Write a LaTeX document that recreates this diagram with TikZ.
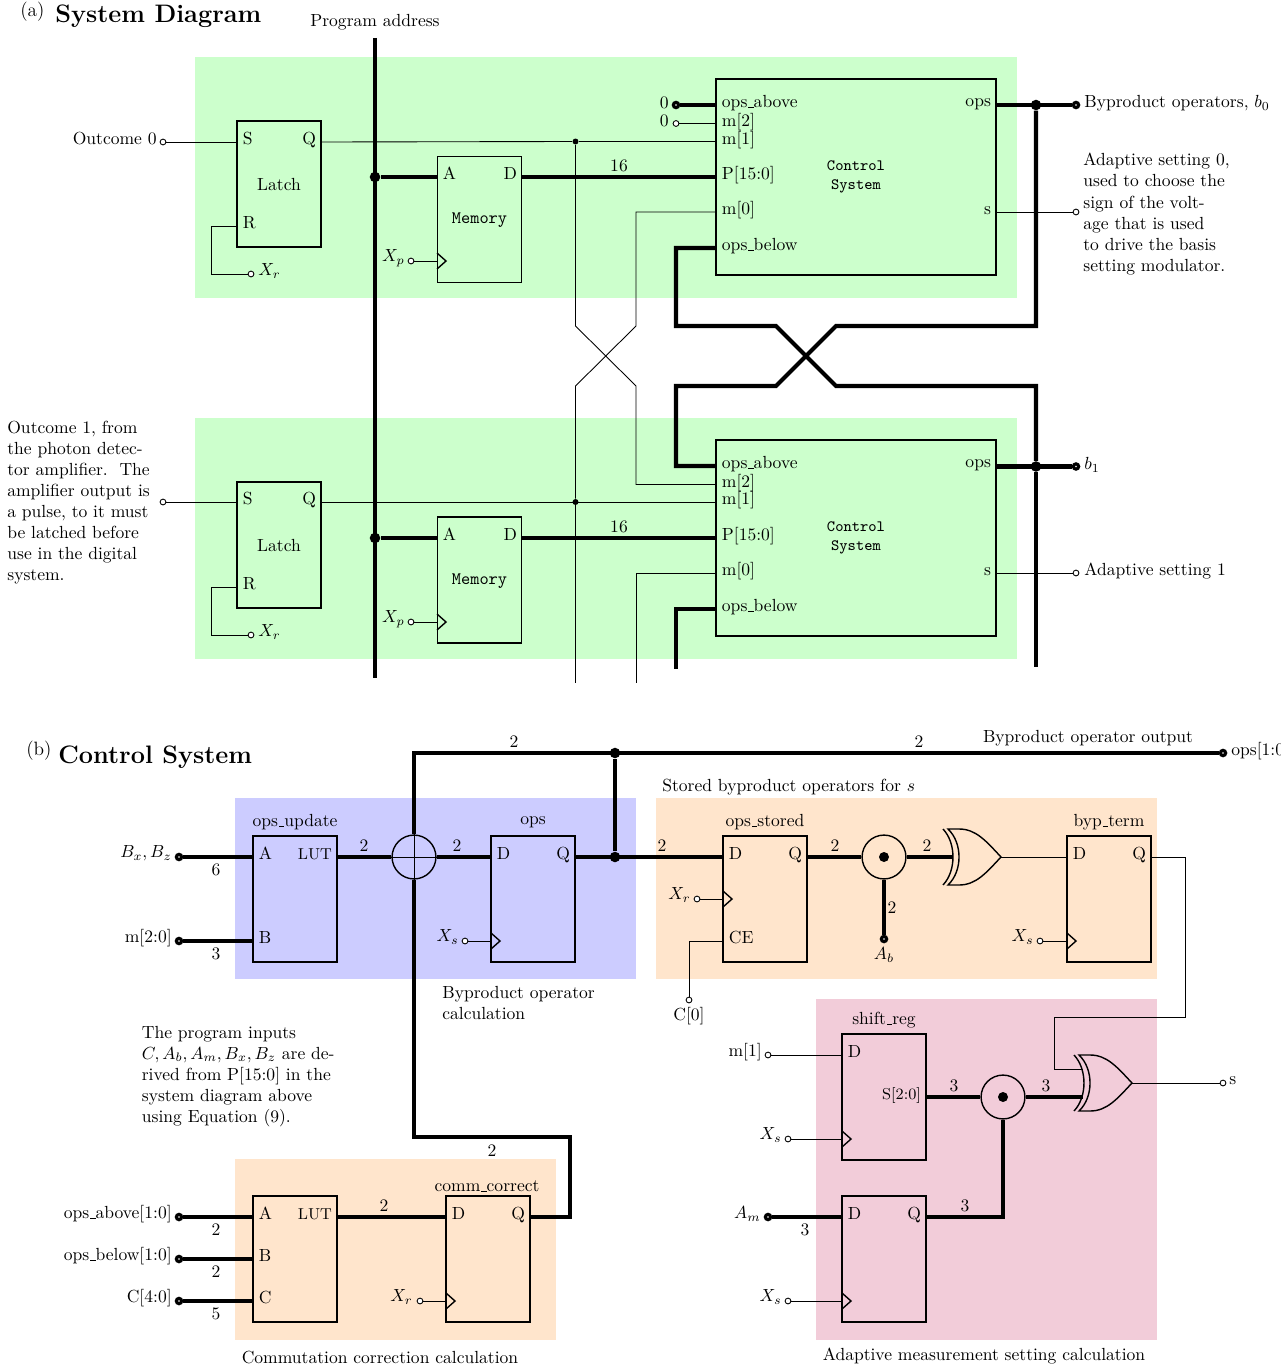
\documentclass[tikz,border=0pt]{standalone}
\usepackage{tikz}
\newcommand{\usc}{\kern.06em\vbox{\hrule width.3em}}

\begin{document}
\begin{tikzpicture}[
    x=0.57pt, y=-0.57pt,
    wire/.style={line width=0.5pt},
    bus/.style={line width=2.3pt},
    edge/.style={line width=0.8pt},
    regbox/.style={draw,edge,inner sep=0pt,outer sep=0pt,minimum width=47.9pt,minimum height=71.8pt},
    ctlbox/.style={draw,edge,inner sep=0pt,outer sep=0pt,minimum width=159.6pt,minimum height=111.7pt},
    pinw/.style={anchor=west,inner xsep=3.4pt,inner ysep=0pt,outer sep=0pt,text height=7.5pt,text depth=4.2pt},
    pine/.style={anchor=east,inner xsep=2.9pt,inner ysep=0pt,outer sep=0pt,text height=7.5pt,text depth=4.2pt},
    tagw/.style={anchor=west,inner sep=0pt,text height=7.5pt,text depth=4.2pt},
    tage/.style={anchor=east,inner sep=0pt,text height=7.5pt,text depth=4.2pt},
    tagc/.style={inner sep=0pt},
    para/.style={anchor=north west,inner sep=0pt,align=left},
    opn/.style={circle,draw,fill=white,wire,inner sep=0pt,minimum size=3.3pt},
    thk/.style={circle,draw,fill=white,line width=1.8pt,inner sep=0pt,minimum size=3pt},
    dotbig/.style={circle,fill=black,inner sep=0pt,minimum size=6pt},
    dotsmall/.style={circle,fill=black,inner sep=0pt,minimum size=3.4pt},
    opcirc/.style={circle,draw,edge,inner sep=0pt,minimum size=25pt},
    clocktip/.pic={\draw[edge] (0,-8) -- (9,0) -- (0,8);},
    xorgate/.pic={
        \draw[edge] (-58,-28) .. controls (-44.7,-14) and (-44.7,14) .. (-58,28);
        \draw[edge] (-53,-28) .. controls (-38.3,-14) and (-38.3,14) .. (-53,28)
            -- (-42,28) .. controls (-25,28) and (-15,16) .. (0,0)
            .. controls (-15,-16) and (-25,-28) .. (-42,-28) -- cycle;
        \coordinate (-in) at (-48,0);
        \coordinate (-inu) at (-49,-14);
        \coordinate (-ind) at (-49,14);
        \coordinate (-out) at (0,0);
    }
]
    \colorlet{grn}{green!20}
    \colorlet{blu}{blue!20}
    \colorlet{org}{orange!20}
    \colorlet{pnk}{purple!20}

    \useasboundingbox (0,0) rectangle (1281,1366);

    \fill [grn] (195,57) rectangle (1017,298);
    \fill [grn] (195,418) rectangle (1017,659);
    \fill [blu] (235,798) rectangle (636,979);
    \fill [org] (656,798) rectangle (1157,979);
    \fill [pnk] (816,999) rectangle (1157,1340);
    \fill [org] (235,1159) rectangle (556,1340);

    % (a) system diagram
    \node [tagw,font=\fontsize{11}{13}\selectfont] (tita) at (20,14) {(a)};
    \node [tagc,anchor=west,font=\Large\bfseries] (sysname) at (55,16) {System Diagram};
    \node [tagc] (progname) at (375,22.5) {Program address};
    \coordinate (progtop) at (375,38);
    \coordinate (progend) at (375,678);
    \node [dotbig] (proga) at (375,177) {};
    \node [dotbig] (progb) at (375,538) {};

    % upper row
    \node [tage] (outa) at (157,142) {Outcome 0};
    \node [opn] (outat) at (163,142) {};
    \node [regbox] (lata) at (279,184) {};
    \node [tagc] (lataname) at (279,185) {Latch};
    \node [pinw] (lata-s) at (237,142) {S};
    \node [pine] (lata-q) at (321,142) {Q};
    \node [pinw] (lata-r) at (237,226) {R};
    \node [opn] (xra) at (251,274) {};
    \node [tagw] (xralab) at (258,272.5) {$X_r$};
    \node [regbox] (mema) at (479.5,219.5) {};
    \node [tagc,font=\ttfamily] (memaname) at (479.5,220.5) {Memory};
    \node [pinw] (mema-a) at (437,177) {A};
    \node [pine] (mema-d) at (522,177) {D};
    \coordinate (mema-c) at (437,261);
    \pic at (mema-c) {clocktip};
    \node [opn] (xpa) at (411,261) {};
    \node [tage] (xpalab) at (405,258.5) {$X_p$};
    \node [tagc] (sixa) at (619,166) {16};
    \node [ctlbox] (ctla) at (856,177) {};
    \node [tagc,font=\small\ttfamily,align=center] (ctlaname) at (856,177) {Control\\System};
    \node [pinw] (ctla-above) at (716,105) {ops\usc above};
    \node [pinw] (ctla-m2) at (716,123.5) {m[2]};
    \node [pinw] (ctla-m1) at (716,141.5) {m[1]};
    \node [pinw] (ctla-p) at (716,177) {P[15:0]};
    \node [pinw] (ctla-m0) at (716,212) {m[0]};
    \node [pinw] (ctla-below) at (716,248) {ops\usc below};
    \node [pine] (ctla-ops) at (996,103.5) {ops};
    \node [pine] (ctla-s) at (996,212) {s};
    \node [thk] (zeroat) at (676,105) {};
    \node [opn] (zerobt) at (676,123.5) {};
    \node [tage] (zeroa) at (669,106) {0};
    \node [tage] (zerob) at (669,124) {0};
    \node [dotsmall] (m1a) at (575.5,141.5) {};
    \node [dotbig] (opsa) at (1036,105) {};
    \node [thk] (byp) at (1076,105) {};
    \node [tagw] (byplab) at (1084,105) {Byproduct operators, $b_0$};
    \node [opn] (adpa) at (1076,212) {};
    \node [para] (adpatext) at (1083,153) {Adaptive setting 0,\\used to choose the\\sign of the volt-\\age that is used\\to drive the basis\\setting modulator.};

    % lower row
    \node [para] (outb) at (7,420.5) {Outcome 1, from\\the photon detec-\\tor amplifier.\ \ The\\amplifier output is\\a pulse, to it must\\be latched before\\use in the digital\\system.};
    \node [opn] (outbt) at (163,502) {};
    \node [regbox] (latb) at (279,545) {};
    \node [tagc] (latbname) at (279,546) {Latch};
    \node [pinw] (latb-s) at (237,502) {S};
    \node [pine] (latb-q) at (321,502) {Q};
    \node [pinw] (latb-r) at (237,587) {R};
    \node [opn] (xrb) at (251,635) {};
    \node [tagw] (xrblab) at (258,633.5) {$X_r$};
    \node [regbox] (memb) at (479.5,580) {};
    \node [tagc,font=\ttfamily] (membname) at (479.5,581) {Memory};
    \node [pinw] (memb-a) at (437,538) {A};
    \node [pine] (memb-d) at (522,538) {D};
    \coordinate (memb-c) at (437,622);
    \pic at (memb-c) {clocktip};
    \node [opn] (xpb) at (411,622) {};
    \node [tage] (xpblab) at (405,619.5) {$X_p$};
    \node [tagc] (sixb) at (619,527) {16};
    \node [ctlbox] (ctlb) at (856,538) {};
    \node [tagc,font=\small\ttfamily,align=center] (ctlbname) at (856,538) {Control\\System};
    \node [pinw] (ctlb-above) at (716,466) {ops\usc above};
    \node [pinw] (ctlb-m2) at (716,484.5) {m[2]};
    \node [pinw] (ctlb-m1) at (716,502) {m[1]};
    \node [pinw] (ctlb-p) at (716,538) {P[15:0]};
    \node [pinw] (ctlb-m0) at (716,573) {m[0]};
    \node [pinw] (ctlb-below) at (716,609) {ops\usc below};
    \node [pine] (ctlb-ops) at (996,464.5) {ops};
    \node [pine] (ctlb-s) at (996,573) {s};
    \node [dotsmall] (m1b) at (575.5,502) {};
    \node [dotbig] (opsb) at (1036,466.5) {};
    \node [thk] (bone) at (1076,466.5) {};
    \node [tagw] (bonelab) at (1084,466.5) {$b_1$};
    \node [opn] (adpb) at (1076,573) {};
    \node [tagw] (adpblab) at (1084,573) {Adaptive setting 1};
    \coordinate (m1end) at (575.5,683);
    \coordinate (m0end) at (636,683);
    \coordinate (belowend) at (676,669);
    \coordinate (opsend) at (1036,667);

    % crossing between the rows
    \coordinate (crm1u) at (575.5,326);
    \coordinate (crm1d) at (636,386);
    \coordinate (crm0u) at (636,326);
    \coordinate (crm0d) at (575.5,386);
    \coordinate (crbl) at (676,326);
    \coordinate (crbu) at (776,326);
    \coordinate (crbd) at (836,386);
    \coordinate (crbr) at (1036,386);
    \coordinate (cral) at (676,386);
    \coordinate (crad) at (776,386);
    \coordinate (crau) at (836,326);
    \coordinate (crar) at (1036,326);

    \draw [wire] (outat) -- (lata-s.west);
    \draw [wire] (lata-q.east) -- (m1a) -- (ctla-m1.west);
    \draw [wire] (lata-r.west) -- ++(-26,0) |- (xra);
    \draw [wire] (xpa) -- (mema-c);
    \draw [wire] (zerobt) -- (ctla-m2.west);
    \draw [wire] (ctla-s.east) -- (adpa);
    \draw [wire] (m1a) -- (crm1u) -- (crm1d) |- (ctlb-m2.west);
    \draw [wire] (ctla-m0.west) -| (crm0u) -- (crm0d) -- (m1b);
    \draw [wire] (m1b) -- (m1end);
    \draw [wire] (outbt) -- (latb-s.west);
    \draw [wire] (latb-q.east) -- (ctlb-m1.west);
    \draw [wire] (latb-r.west) -- ++(-26,0) |- (xrb);
    \draw [wire] (xpb) -- (memb-c);
    \draw [wire] (ctlb-m0.west) -| (m0end);
    \draw [wire] (ctlb-s.east) -- (adpb);

    \draw [bus] (progtop) -- (progend);
    \draw [bus] (proga) -- (mema-a.west);
    \draw [bus] (progb) -- (memb-a.west);
    \draw [bus] (mema-d.east) -- (ctla-p.west);
    \draw [bus] (memb-d.east) -- (ctlb-p.west);
    \draw [bus] (zeroat) -- (ctla-above.west);
    \draw [bus] (ctla.east |- opsa) -- (byp);
    \draw [bus] (ctlb.east |- opsb) -- (bone);
    \draw [bus] (ctla-below.west) -| (crbl) -- (crbu) -- (crbd) -- (crbr) -- (opsb);
    \draw [bus] (ctlb-above.west) -| (cral) -- (crad) -- (crau) -- (crar) -- (opsa);
    \draw [bus] (opsb) -- (opsend);
    \draw [bus] (ctlb-below.west) -| (belowend);

    % (b) control system
    \node [tagw,font=\fontsize{11}{13}\selectfont] (titb) at (26,753) {(b)};
    \node [tagc,anchor=west,font=\Large\bfseries] (ctlname) at (58,757) {Control System};
    \node [tagc] (outname) at (1088,738.5) {Byproduct operator output};
    \node [tagc,anchor=west] (storedname) at (662,787) {Stored byproduct operators for $s$};
    \node [para] (bypname) at (442,985.5) {Byproduct operator\\calculation};
    \node [para] (inname) at (141.5,1025.5) {The program inputs\\$C, A_b, A_m, B_x, B_z$ are de-\\rived from P[15:0] in the\\system diagram above\\using Equation (9).};
    \node [tagc] (comname) at (380,1357) {Commutation correction calculation};
    \node [tagc] (adpname) at (984,1356) {Adaptive measurement setting calculation};

    \node [regbox] (upd) at (295,899) {};
    \node [tagc] (updname) at (295,822) {ops\usc update};
    \node [pinw] (upd-a) at (253,857) {A};
    \node [pinw] (upd-b) at (253,941) {B};
    \node [pine,font=\small] (upd-lut) at (337,857) {LUT};
    \node [thk] (bxt) at (179,857) {};
    \node [tage] (bxlab) at (172,854.5) {$B_x, B_z$};
    \node [thk] (mtwot) at (179,941) {};
    \node [tage] (mtwolab) at (172,940) {m[2:0]};
    \node [tagc] (nsix) at (216,870) {6};
    \node [tagc] (nthra) at (216,954) {3};
    \node [tagc] (ntwa) at (364,846) {2};
    \node [opcirc] (add) at (414,857) {};
    \node [tagc] (ntwb) at (457,846) {2};
    \node [regbox] (ops) at (533,899) {};
    \node [tagc] (opsname) at (533,822) {ops};
    \node [pinw] (ops-d) at (491,857) {D};
    \node [pine] (ops-q) at (575,857) {Q};
    \coordinate (ops-c) at (491,941);
    \pic at (ops-c) {clocktip};
    \node [opn] (xsa) at (465,941) {};
    \node [tage] (xsalab) at (459,938.5) {$X_s$};
    \node [dotbig] (jq) at (615,857) {};
    \node [dotbig] (jt) at (615,753) {};
    \coordinate (addtop) at (414,753);
    \node [thk] (opsout) at (1223,753) {};
    \node [tagw] (opsoutlab) at (1231,753) {ops[1:0]};
    \node [tagc] (ntwc) at (514,742) {2};
    \node [tagc] (ntwd) at (919,742) {2};

    \node [tagc] (ntwe) at (662,846) {2};
    \node [regbox] (sto) at (765,899) {};
    \node [tagc] (stoname) at (765,822) {ops\usc stored};
    \node [pinw] (sto-d) at (723,857) {D};
    \node [pine] (sto-q) at (807,857) {Q};
    \node [pinw] (sto-ce) at (723,941) {CE};
    \coordinate (sto-c) at (723,899);
    \pic at (sto-c) {clocktip};
    \node [opn] (xrc) at (697,899) {};
    \node [tage] (xrclab) at (691,896.5) {$X_r$};
    \node [opn] (czero) at (689,1000) {};
    \node [tagc] (czerolab) at (689,1016) {C[0]};
    \node [tagc] (ntwf) at (835,846) {2};
    \node [opcirc] (anda) at (884,857) {};
    \node [dotsmall,minimum size=5.7pt] (andadot) at (884,857) {};
    \node [thk] (abt) at (884,939) {};
    \node [tagc] (ablab) at (884,955) {$A_b$};
    \node [tagc] (ntwg) at (892,908) {2};
    \node [tagc] (ntwh) at (927,846) {2};
    \pic (xora) at (1001,857) {xorgate};
    \node [regbox] (byt) at (1109,899) {};
    \node [tagc] (bytname) at (1109,822) {byp\usc term};
    \node [pinw] (byt-d) at (1067,857) {D};
    \node [pine] (byt-q) at (1151,857) {Q};
    \coordinate (byt-c) at (1067,941);
    \pic at (byt-c) {clocktip};
    \node [opn] (xsb) at (1040,941) {};
    \node [tage] (xsblab) at (1034,938.5) {$X_s$};

    \node [regbox] (shf) at (884,1097) {};
    \node [tagc] (shfname) at (884,1020) {shift\usc reg};
    \node [pinw] (shf-d) at (842,1055) {D};
    \node [pine,font=\small] (shf-s) at (926,1097) {S[2:0]};
    \coordinate (shf-c) at (842,1139);
    \pic at (shf-c) {clocktip};
    \node [opn] (mone) at (768,1055) {};
    \node [tage] (monelab) at (762,1054) {m[1]};
    \node [opn] (xsc) at (788,1139) {};
    \node [tage] (xsclab) at (782,1136.5) {$X_s$};
    \node [tagc] (nthrb) at (954,1086) {3};
    \node [opcirc] (andb) at (1003,1097) {};
    \node [dotsmall,minimum size=5.7pt] (andbdot) at (1003,1097) {};
    \node [tagc] (nthrc) at (1046,1086) {3};
    \pic (xorb) at (1132,1083) {xorgate};
    \node [opn] (sout) at (1223,1083) {};
    \node [tagw] (soutlab) at (1229,1082) {s};
    \coordinate (qturn) at (1185,1017);
    \coordinate (gateturn) at (1054,1069);
    \node [regbox] (amr) at (884,1259) {};
    \node [pinw] (amr-d) at (842,1217) {D};
    \node [pine] (amr-q) at (926,1217) {Q};
    \coordinate (amr-c) at (842,1301);
    \pic at (amr-c) {clocktip};
    \node [thk] (amt) at (768,1217) {};
    \node [tage] (amlab) at (761,1215.5) {$A_m$};
    \node [tagc] (nthrd) at (805,1230) {3};
    \node [opn] (xsd) at (788,1301) {};
    \node [tage] (xsdlab) at (782,1298.5) {$X_s$};
    \node [tagc] (nthre) at (965,1206) {3};

    \node [regbox] (lut) at (295,1259) {};
    \node [pinw] (lut-a) at (253,1217) {A};
    \node [pinw] (lut-b) at (253,1259) {B};
    \node [pinw] (lut-c) at (253,1301) {C};
    \node [pine,font=\small] (lut-lut) at (337,1217) {LUT};
    \node [thk] (abvt) at (179,1217) {};
    \node [thk] (blwt) at (179,1259) {};
    \node [thk] (cfrt) at (179,1301) {};
    \node [tage] (abvlab) at (172,1216) {ops\usc above[1:0]};
    \node [tage] (blwlab) at (172,1258) {ops\usc below[1:0]};
    \node [tage] (cfrlab) at (172,1300) {C[4:0]};
    \node [tagc] (ntwi) at (216,1230) {2};
    \node [tagc] (ntwj) at (216,1272) {2};
    \node [tagc] (nfiv) at (216,1314) {5};
    \node [tagc] (ntwk) at (384,1206) {2};
    \node [regbox] (com) at (488,1259) {};
    \node [tagc] (comcname) at (487,1186) {comm\usc correct};
    \node [pinw] (com-d) at (446,1217) {D};
    \node [pine] (com-q) at (530,1217) {Q};
    \coordinate (com-c) at (446,1301);
    \pic at (com-c) {clocktip};
    \node [opn] (xre) at (420,1301) {};
    \node [tage] (xrelab) at (413,1298.5) {$X_r$};
    \coordinate (backa) at (414,1137);
    \coordinate (backb) at (570,1137);
    \node [tagc] (ntwl) at (492,1151) {2};

    \draw [wire] (add.north) -- (add.south);
    \draw [wire] (add.west) -- (add.east);
    \draw [wire] (xsa) -- (ops-c);
    \draw [wire] (xrc) -- (sto-c);
    \draw [wire] (sto-ce.west) -| (czero);
    \draw [wire] (xora-out) -- (byt-d.west);
    \draw [wire] (xsb) -- (byt-c);
    \draw [wire] (byt-q.east) -| (qturn) -| (gateturn) -- (xorb-inu);
    \draw [wire] (mone) -- (shf-d.west);
    \draw [wire] (xsc) -- (shf-c);
    \draw [wire] (xsd) -- (amr-c);
    \draw [wire] (xre) -- (com-c);
    \draw [wire] (xorb-out) -- (sout);

    \draw [bus] (bxt) -- (upd-a.west);
    \draw [bus] (mtwot) -- (upd-b.west);
    \draw [bus] (upd-lut.east) -- (add);
    \draw [bus] (add) -- (ops-d.west);
    \draw [bus] (ops-q.east) -- (sto-d.west);
    \draw [bus] (jq) -- (jt);
    \draw [bus] (add) -- (addtop) -- (opsout);
    \draw [bus] (sto-q.east) -- (anda);
    \draw [bus] (anda) -- (abt);
    \draw [bus] (anda) -- (xora-in);
    \draw [bus] (shf-s.east) -- (andb);
    \draw [bus] (andb) -- (xorb-ind);
    \draw [bus] (amt) -- (amr-d.west);
    \draw [bus] (amr-q.east) -| (andb);
    \draw [bus] (abvt) -- (lut-a.west);
    \draw [bus] (blwt) -- (lut-b.west);
    \draw [bus] (cfrt) -- (lut-c.west);
    \draw [bus] (lut-lut.east) -- (com-d.west);
    \draw [bus] (add) -- (backa) -- (backb) |- (com-q.east);
\end{tikzpicture}
\end{document}
